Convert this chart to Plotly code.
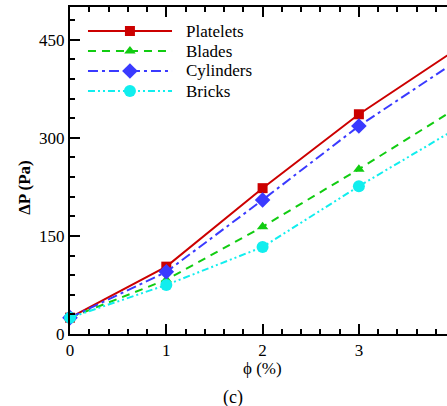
import plotly.graph_objects as go

phi = [0, 1, 2, 3, 4]
platelets = [25, 103, 223, 336, 434]
blades = [25, 83, 164, 252, 344]
cylinders = [25, 95, 205, 318, 416]
bricks = [25, 75, 133, 226, 313]

series = [
    ("Platelets", platelets, "#CC0000", "solid", "square", 10),
    ("Blades", blades, "#11CC11", "8px,6px", "triangle-up", 10),
    ("Cylinders", cylinders, "#3A3AFF", "10px,4px,3px,4px", "diamond", 12),
    ("Bricks", bricks, "#11EEEE", "7px,3px,2px,3px,2px,3px", "circle", 12),
]

font = "Liberation Serif"
fig = go.Figure()
for name, vals, color, dash, sym, size in series:
    fig.add_trace(go.Scatter(
        x=phi, y=vals, name=name, mode="lines+markers",
        line=dict(color=color, width=2, dash=dash),
        marker=dict(symbol=sym, size=size, color=color),
        cliponaxis=False, showlegend=False,
    ))

# manual legend (long sample lines like the reference)
leg_y = [0.9266, 0.8654, 0.8043, 0.7431]
for (name, vals, color, dash, sym, size), ly in zip(series, leg_y):
    fig.add_shape(type="line", xref="paper", yref="paper",
                  x0=0.0477, x1=0.2706, y0=ly, y1=ly,
                  line=dict(color=color, width=2, dash=dash))
    fig.add_trace(go.Scatter(
        x=[0.159], y=[ly], xaxis="x2", yaxis="y2", mode="markers",
        marker=dict(symbol=sym, size=size, color=color), showlegend=False,
        hoverinfo="skip"))
    fig.add_annotation(text=name, xref="paper", yref="paper", x=0.302, y=ly,
                       xanchor="left", yanchor="middle", showarrow=False,
                       font=dict(family=font, size=17))

fig.update_layout(
    width=447, height=406,
    margin=dict(l=70, r=0, t=7, b=72),
    paper_bgcolor="white", plot_bgcolor="white",
    font=dict(family=font, size=17, color="black"),
    showlegend=False,
    xaxis=dict(
        range=[0, 3.915], tickvals=[0, 1, 2, 3], ticktext=["0", "1", "2", "3"],
        ticks="inside", ticklen=10, tickwidth=1.5, tickcolor="black",
        showline=True, linecolor="black", linewidth=2, mirror="ticks",
        showgrid=False, zeroline=False,
        minor=dict(dtick=0.2, ticks="inside", ticklen=5, tickcolor="black", showgrid=False),
    ),
    yaxis=dict(
        range=[0, 500], tickvals=[0, 150, 300, 450],
        ticks="inside", ticklen=10, tickwidth=1.5, tickcolor="black",
        showline=True, linecolor="black", linewidth=2, mirror=False,
        showgrid=False, zeroline=False,
        minor=dict(dtick=30, ticks="inside", ticklen=5, tickcolor="black", showgrid=False),
    ),
    xaxis2=dict(overlaying="x", range=[0, 1], visible=False),
    yaxis2=dict(overlaying="y", range=[0, 1], visible=False),
)
fig.add_annotation(text="<b>ΔP (Pa)</b>", xref="paper", yref="paper",
                   x=-0.15, y=0.45, textangle=-90, showarrow=False,
                   font=dict(family=font, size=17))
fig.add_annotation(text="ϕ (%)", xref="x", yref="paper", x=2, y=-0.07,
                   yanchor="top", showarrow=False, font=dict(family=font, size=17))
fig.add_annotation(text="(c)", xref="paper", yref="paper", x=(233 - 70) / 377, y=-0.155,
                   yanchor="top", showarrow=False, font=dict(family=font, size=18))

fig.write_html("out.html")
